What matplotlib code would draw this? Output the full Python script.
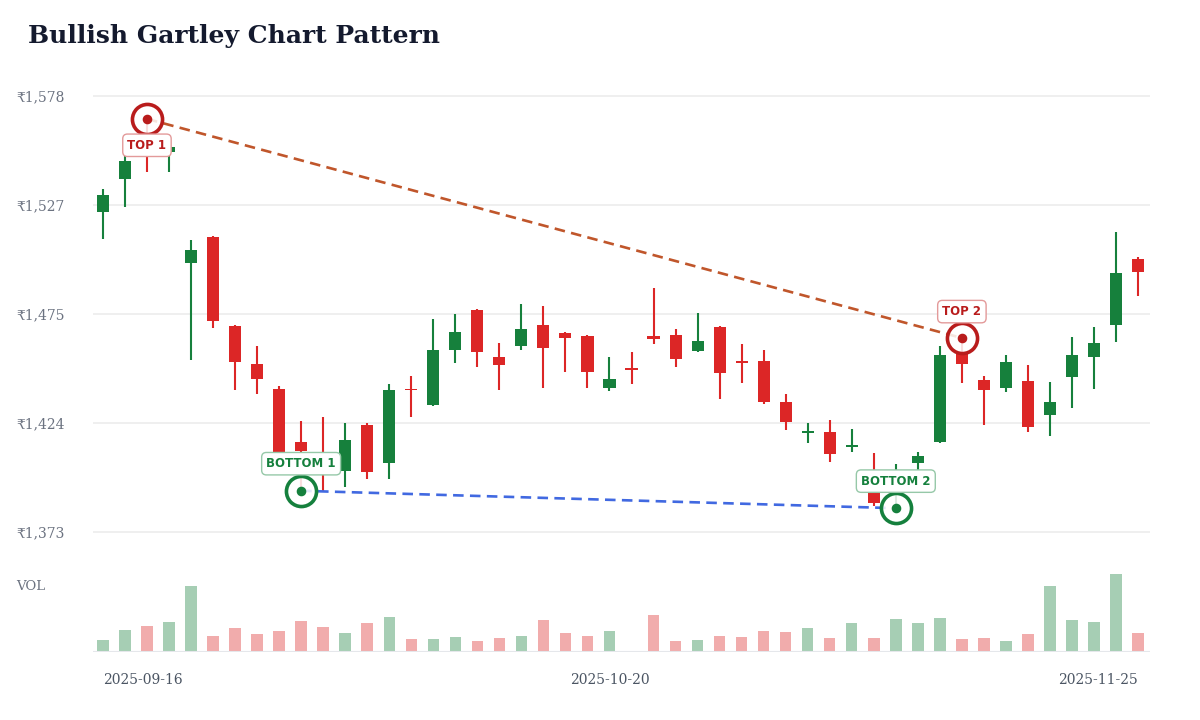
import matplotlib
matplotlib.use('Agg')
import matplotlib.pyplot as plt

plt.rcParams['font.family'] = ['DejaVu Serif', 'DejaVu Sans']

# daily OHLC
opens = [1523.2, 1538.8, 1556.0, 1551.4, 1499.2, 1511.8, 1469.9, 1451.9, 1440.0, 1415.3,
         1408.0, 1401.6, 1423.2, 1405.1, 1440.1, 1432.4, 1458.4, 1477.3, 1455.2, 1460.2,
         1470.2, 1466.3, 1465.2, 1440.4, 1449.8, 1465.2, 1465.5, 1458.1, 1469.1, 1453.0,
         1453.3, 1433.8, 1419.5, 1419.9, 1413.0, 1398.0, 1394.0, 1405.4, 1415.3, 1457.4,
         1444.3, 1440.4, 1444.0, 1427.9, 1445.7, 1455.3, 1470.4, 1501.3]
highs = [1534.1, 1549.7, 1567.2, 1554.5, 1510.1, 1512.1, 1470.3, 1460.3, 1441.5, 1425.2,
         1426.8, 1424.0, 1424.0, 1442.3, 1446.1, 1473.0, 1475.5, 1477.7, 1461.7, 1480.1,
         1479.3, 1466.9, 1465.5, 1455.2, 1457.5, 1487.6, 1468.2, 1475.7, 1469.7, 1461.3,
         1458.3, 1437.6, 1424.1, 1425.4, 1421.1, 1409.8, 1404.7, 1410.6, 1460.3, 1464.1,
         1446.2, 1456.1, 1451.2, 1443.5, 1464.7, 1469.1, 1514.0, 1502.1]
lows = [1510.5, 1525.9, 1542.4, 1542.0, 1453.7, 1468.7, 1439.6, 1437.6, 1407.0, 1392.2,
        1391.8, 1393.8, 1397.7, 1397.6, 1427.1, 1432.2, 1452.3, 1450.4, 1439.6, 1458.3,
        1440.7, 1448.2, 1440.4, 1439.3, 1442.3, 1461.3, 1450.3, 1457.4, 1435.5, 1442.8,
        1432.9, 1420.7, 1414.5, 1405.9, 1410.6, 1385.2, 1384.0, 1402.0, 1414.5, 1442.8,
        1423.3, 1438.7, 1419.9, 1418.0, 1431.0, 1440.2, 1462.1, 1483.7]
closes = [1531.4, 1547.4, 1552.0, 1553.8, 1505.5, 1472.2, 1452.9, 1444.8, 1410.0, 1410.9,
          1403.0, 1416.1, 1400.9, 1439.5, 1439.6, 1458.3, 1466.8, 1457.5, 1451.2, 1468.2,
          1459.4, 1464.2, 1448.0, 1444.7, 1449.5, 1463.6, 1454.1, 1462.8, 1447.8, 1452.8,
          1434.1, 1424.7, 1419.8, 1409.5, 1413.3, 1386.3, 1400.0, 1408.6, 1456.1, 1451.9,
          1439.6, 1452.9, 1422.4, 1434.0, 1456.1, 1461.6, 1494.8, 1495.0]
volumes = [35, 67, 77, 90, 197, 47, 72, 54, 63, 92, 76, 58, 88, 104, 38, 39, 46, 32, 42, 49,
           96, 56, 48, 62, 4, 111, 33, 36, 48, 44, 62, 60, 73, 41, 86, 41, 99, 86, 101, 40,
           41, 34, 53, 198, 96, 90, 234, 57]

tick_idx = [0, 23, 47]
tick_dates = ['2025-09-16', '2025-10-20', '2025-11-25']
price_ticks = [1372.8, 1424.1, 1475.4, 1526.7, 1578.0]

top_idx = [2, 39]
top_names = ['TOP 1', 'TOP 2']
bottom_idx = [9, 36]
bottom_names = ['BOTTOM 1', 'BOTTOM 2']

GREEN = '#16803c'
RED = '#dc2626'

fig = plt.figure(figsize=(12, 7.2), dpi=100)
ax = fig.add_axes([0.0775, 0.2431, 0.881, 0.639])
axv = fig.add_axes([0.0775, 0.0944, 0.881, 0.1139], sharex=ax)

xs = list(range(len(opens)))
cols = [GREEN if c >= o else RED for o, c in zip(opens, closes)]

ax.vlines(xs, lows, highs, colors=cols, lw=1.5, zorder=2)
for x, o, c, col in zip(xs, opens, closes, cols):
    h = max(abs(c - o), 0.9)
    ax.bar(x, h, bottom=(o + c) / 2 - h / 2, width=0.55, color=col, zorder=2)

# resistance / support lines
tx = top_idx
ty = [highs[i] for i in top_idx]
bx = bottom_idx
by = [lows[i] for i in bottom_idx]
ax.plot(tx, ty, color='#c0562b', lw=1.9, ls=(0, (4, 2.4)), zorder=3)
ax.plot(bx, by, color='#4169e1', lw=1.9, ls=(0, (4, 2.4)), zorder=3)

ax.scatter(tx, ty, s=470, facecolor=(1, 1, 1, 0.85), edgecolor='#b91c1c', lw=2.6, zorder=4)
ax.scatter(tx, ty, s=35, color='#b91c1c', zorder=5)
ax.scatter(bx, by, s=470, facecolor=(1, 1, 1, 0.85), edgecolor='#15803d', lw=2.6, zorder=4)
ax.scatter(bx, by, s=35, color='#15803d', zorder=5)

for name, x, y, off in zip(top_names, tx, ty, [-19, 19]):
    ax.annotate(name, (x, y), xytext=(0, off), textcoords='offset points',
                ha='center', va='center', fontsize=8.5, fontweight='bold',
                family='DejaVu Sans', color='#b91c1c', zorder=6,
                bbox=dict(boxstyle='round,pad=0.4,rounding_size=0.4', fc='white',
                          ec='#e39a9a', lw=1.0))
for name, x, y in zip(bottom_names, bx, by):
    ax.annotate(name, (x, y), xytext=(0, 19.5), textcoords='offset points',
                ha='center', va='center', fontsize=8.5, fontweight='bold',
                family='DejaVu Sans', color='#15803d', zorder=6,
                bbox=dict(boxstyle='round,pad=0.4,rounding_size=0.4', fc='white',
                          ec='#96c8a8', lw=1.0))

ax.set_xlim(-0.45, 47.55)
ax.set_ylim(1366.7, 1583.2)
ax.set_yticks(price_ticks)
ax.set_yticklabels(['₹{:,.0f}'.format(v) for v in price_ticks])
ax.tick_params(axis='y', length=0, pad=20.5, labelsize=10, labelcolor='#6b7280')
ax.tick_params(axis='x', length=0, labelbottom=False)
ax.grid(axis='y', color='#eeeeee', lw=1.3)
ax.set_axisbelow(True)
for s in ax.spines.values():
    s.set_visible(False)

vcols = [(0.086, 0.502, 0.235, 0.38) if c == GREEN else (0.863, 0.149, 0.149, 0.38) for c in cols]
axv.bar(xs, volumes, width=0.52, color=vcols)
axv.set_ylim(0, 246)
axv.set_yticks([])
for s in axv.spines.values():
    s.set_visible(False)
axv.axhline(0, color='#e5e7eb', lw=1.5)
axv.set_xticks(tick_idx)
axv.set_xticklabels(tick_dates)
axv.tick_params(axis='x', length=0, pad=15, labelsize=10, labelcolor='#4b5563')
lbls = axv.get_xticklabels()
lbls[0].set_ha('left')
lbls[-1].set_ha('right')
fig.text(16 / 1200, 1 - 587 / 720, 'VOL', fontsize=9.5, color='#6b7280', va='center')

fig.text(28 / 1200, 1 - 36 / 720, 'Bullish Gartley Chart Pattern', fontsize=18,
         fontweight='bold', color='#141a2e', va='center')

fig.savefig('out.png', dpi=100)
